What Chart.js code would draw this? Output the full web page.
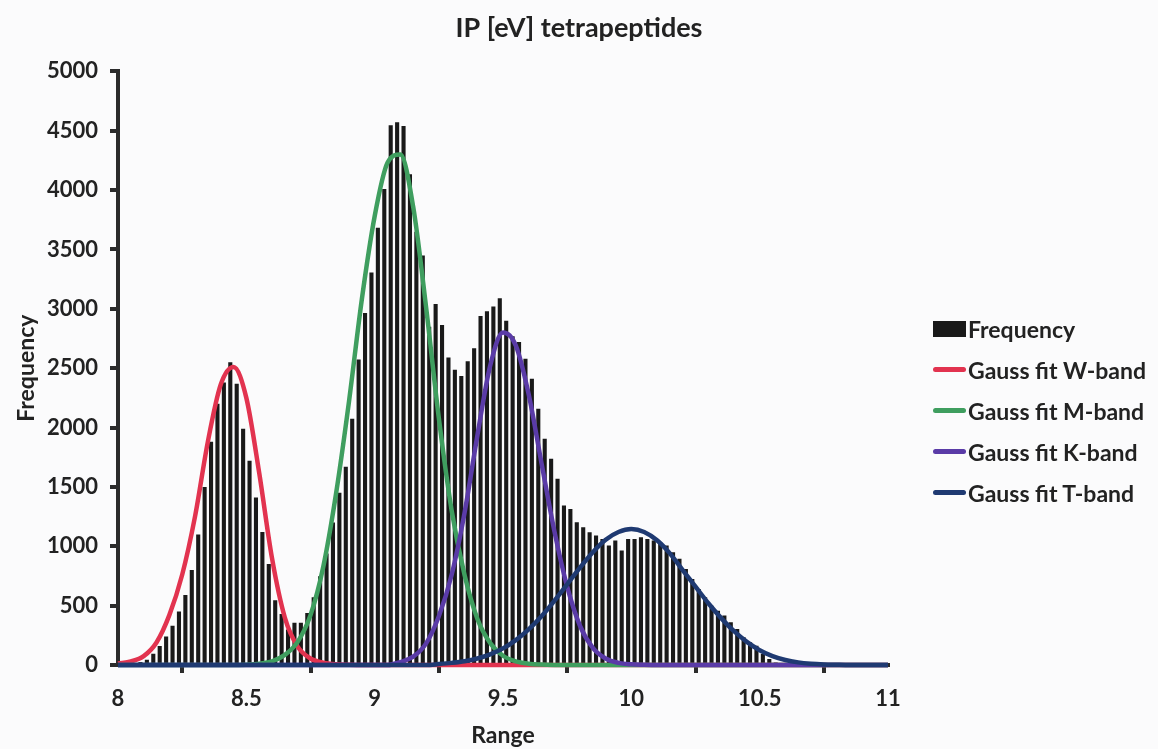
<!DOCTYPE html>
<html>
<head>
<meta charset="utf-8">
<title>IP [eV] tetrapeptides</title>
<script src="https://cdn.jsdelivr.net/npm/chart.js@4.4.1/dist/chart.umd.min.js"></script>
<style>
    html, body { margin: 0; padding: 0; background: #fbfbfc; }
    #wrap { position: relative; width: 1158px; height: 749px; }
    #legend { position: absolute; left: 933px; top: 308px; font: bold 23px Lato, sans-serif; color: #222; }
    .item { display: flex; align-items: center; height: 41px; white-space: nowrap; }
    .sw { width: 33px; margin-right: 2px; }
</style>
</head>
<body>
<div id="wrap">
    <canvas id="chart" width="1158" height="749"></canvas>
    <div id="legend"></div>
</div>
<script>
// Histogram bins: 0.025 eV wide, first bin starts at 8.0
const binStart = 8.0;
const binWidth = 0.025;
const frequency = [
    0, 5, 12, 25, 45, 95, 160, 240, 330, 450,
    590, 800, 1100, 1500, 1880, 2200, 2380, 2550, 2370, 1990,
    1720, 1410, 1120, 850, 545, 430, 300, 355, 355, 437,
    570, 747, 940, 1200, 1450, 1670, 2075, 2574, 2964, 3307,
    3682, 4009, 4546, 4571, 4540, 4134, 3650, 3450, 2850, 3040,
    2864, 2590, 2487, 2434, 2559, 2668, 2939, 2980, 3020, 3089,
    2900, 2770, 2720, 2580, 2411, 2158, 1905, 1737, 1568, 1343,
    1315, 1203, 1160, 1118, 1090, 1062, 1006, 1048, 964, 1062,
    1062, 1076, 1062, 1048, 1034, 1006, 950, 894, 809, 725,
    641, 570, 500, 458, 416, 360, 303, 233, 191, 163,
    93, 51, 22, 10, 5
];

const curveX = [
    8.00, 8.05, 8.10, 8.15, 8.20, 8.25, 8.30, 8.35, 8.40, 8.45,
    8.50, 8.55, 8.60, 8.65, 8.70, 8.75, 8.80, 8.85, 8.90, 8.95,
    9.00, 9.05, 9.10, 9.15, 9.20, 9.25, 9.30, 9.35, 9.40, 9.45,
    9.50, 9.55, 9.60, 9.65, 9.70, 9.75, 9.80, 9.85, 9.90, 9.95,
    10.00, 10.05, 10.10, 10.15, 10.20, 10.25, 10.30, 10.35, 10.40, 10.45,
    10.50, 10.55, 10.60, 10.65, 10.70, 10.75, 10.80, 10.85, 10.90, 10.95,
    11.00
];
const wBand = [
    12, 30, 75, 190, 420, 760, 1250, 1880, 2360, 2510,
    2250, 1620, 900, 400, 155, 55, 20, 6, 2, 0,
    0, 0, 0, 0, 0, 0, 0, 0, 0, 0,
    0, 0, 0, 0, 0, 0, 0, 0, 0, 0,
    0, 0, 0, 0, 0, 0, 0, 0, 0, 0,
    0, 0, 0, 0, 0, 0, 0, 0, 0, 0,
    0
];
const mBand = [
    0, 0, 0, 0, 0, 0, 0, 0, 0, 0,
    3, 10, 30, 85, 195, 420, 830, 1450, 2220, 3080,
    3780, 4230, 4300, 3860, 3020, 2080, 1300, 760, 390, 185,
    78, 30, 11, 4, 1, 0, 0, 0, 0, 0,
    0, 0, 0, 0, 0, 0, 0, 0, 0, 0,
    0, 0, 0, 0, 0, 0, 0, 0, 0, 0,
    0
];
const kBand = [
    0, 0, 0, 0, 0, 0, 0, 0, 0, 0,
    0, 0, 0, 0, 0, 0, 0, 0, 0, 0,
    0, 0, 25, 70, 180, 410, 760, 1280, 1930, 2520,
    2800, 2690, 2280, 1700, 1130, 660, 330, 145, 55, 18,
    6, 2, 0, 0, 0, 0, 0, 0, 0, 0,
    0, 0, 0, 0, 0, 0, 0, 0, 0, 0,
    0
];
const tBand = [
    0, 0, 0, 0, 0, 0, 0, 0, 0, 0,
    0, 0, 0, 0, 0, 0, 0, 0, 0, 0,
    0, 0, 0, 0, 0, 8, 18, 32, 55, 90,
    140, 210, 300, 410, 540, 680, 820, 950, 1055, 1120,
    1145, 1120, 1050, 940, 800, 660, 520, 395, 285, 195,
    125, 75, 42, 22, 11, 5, 2, 0, 0, 0,
    0
];

const series = [
    { label: 'Gauss fit W-band', values: wBand, color: '#e2334f' },
    { label: 'Gauss fit M-band', values: mBand, color: '#3f9e5f' },
    { label: 'Gauss fit K-band', values: kBand, color: '#5a3ba7' },
    { label: 'Gauss fit T-band', values: tBand, color: '#1f3a72' }
];

Chart.defaults.font.family = 'Lato, sans-serif';
Chart.defaults.color = '#222';

const barData = frequency.map((v, i) => ({ x: binStart + (i + 0.5) * binWidth, y: v }));

const datasets = [{
    type: 'bar',
    label: 'Frequency',
    data: barData,
    backgroundColor: '#191919',
    barPercentage: 0.64,
    categoryPercentage: 1,
    order: 10
}];
series.forEach((s, i) => {
    datasets.push({
        type: 'line',
        label: s.label,
        data: curveX.map((x, j) => ({ x: x, y: s.values[j] })),
        borderColor: s.color,
        backgroundColor: s.color,
        borderWidth: 4.5,
        pointRadius: 0,
        fill: false,
        cubicInterpolationMode: 'monotone',
        clip: 6,
        order: 4 - i // later series drawn on top, like the original
    });
});

const tickFont = { weight: 'bold', size: 22 };
const titleFont = { weight: 'bold', size: 23 };

const chart = new Chart(document.getElementById('chart').getContext('2d'), {
    type: 'bar',
    data: { datasets: datasets },
    options: {
        responsive: false,
        animation: false,
        layout: { padding: 0 },
        plugins: {
            legend: { display: false },
            tooltip: { enabled: false },
            title: {
                display: true,
                text: 'IP [eV] tetrapeptides',
                font: { weight: 'bold', size: 27 },
                color: '#222',
                padding: { top: 12, bottom: 27 }
            }
        },
        scales: {
            x: {
                type: 'linear',
                min: 8,
                max: 11,
                offset: false,
                ticks: {
                    stepSize: 0.5, font: tickFont, color: '#222', padding: 13, maxRotation: 0,
                    callback: v => String(v)
                },
                grid: { drawOnChartArea: false, drawTicks: true, tickLength: 8, color: '#2b2b2b', lineWidth: 4 },
                border: { display: true, color: '#2b2b2b', width: 4 },
                title: { display: true, text: 'Range', font: titleFont, color: '#222', padding: { top: 0, bottom: 0 } },
                afterFit: scale => { scale.height = 84; }
            },
            y: {
                type: 'linear',
                min: 0,
                max: 5000,
                ticks: {
                    stepSize: 500, font: tickFont, color: '#222', padding: 12,
                    callback: v => String(v)
                },
                grid: { drawOnChartArea: false, drawTicks: true, tickLength: 8, color: '#2b2b2b', lineWidth: 4 },
                border: { display: true, color: '#2b2b2b', width: 4 },
                title: { display: true, text: 'Frequency', font: titleFont, color: '#222', padding: { top: 13, bottom: 0 } },
                afterFit: scale => { scale.width = 118; }
            },
            // empty scale that just reserves the room where the legend sits
            pad: {
                type: 'linear',
                position: 'right',
                display: true,
                grid: { display: false },
                border: { display: false },
                ticks: { display: false },
                afterFit: scale => { scale.width = 270; }
            }
        }
    }
});

// Legend as real text next to the plot
const legend = document.getElementById('legend');
chart.data.datasets.forEach(ds => {
    const row = document.createElement('div');
    row.className = 'item';
    const sw = document.createElement('span');
    sw.className = 'sw';
    if (ds.type === 'bar') {
        sw.style.height = '16px';
        sw.style.background = ds.backgroundColor;
    } else {
        sw.style.height = '5px';
        sw.style.borderRadius = '3px';
        sw.style.background = ds.borderColor;
    }
    const txt = document.createElement('span');
    txt.textContent = ds.label;
    row.appendChild(sw);
    row.appendChild(txt);
    legend.appendChild(row);
});
</script>
</body>
</html>
